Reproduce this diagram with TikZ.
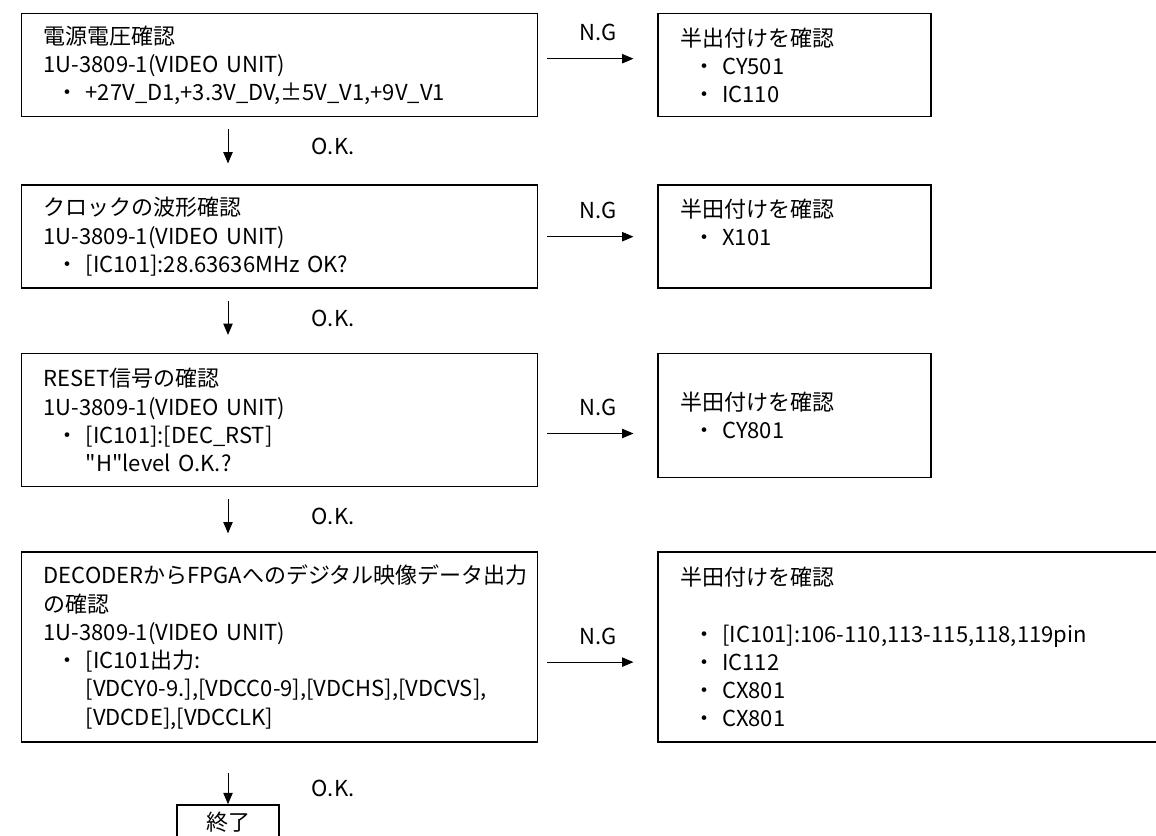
\documentclass[tikz,border=0pt]{standalone}
\usepackage{fontspec}
\setmainfont[Ligatures=TeXOff]{Noto Sans CJK JP}
\usetikzlibrary{arrows.meta, positioning}
\newcommand{\itm}{\hspace*{9.75pt}\makebox[21.75pt][l]{・}}
\newcommand{\cnt}{\hspace*{31.5pt}}

\begin{document}
\begin{tikzpicture}[
      chkbox/.style={draw, line width=1.1pt, text width=354pt, inner xsep=16.5pt, inner ysep=0pt,
      align=left, font=\fontsize{16.5pt}{21.2pt}\selectfont},
      fixbox/.style={chkbox, text width=171.75pt},
      endbox/.style={draw, line width=1.1pt, minimum width=76.5pt, minimum height=26pt, inner ysep=0pt,
      font=\fontsize{16.5pt}{21.2pt}\selectfont},
      okarrow/.style={-{Triangle[length=8.5pt,width=7pt]}, line width=0.75pt},
      ngarrow/.style={okarrow, shorten <=6.75pt, shorten >=18pt},
      oklabel/.style={font=\fontsize{16.5pt}{21.2pt}\selectfont, xshift=78.75pt},
      nglabel/.style={font=\fontsize{16.5pt}{21.2pt}\selectfont, yshift=19.5pt}
    ]
    \useasboundingbox (-15.75pt,9.75pt) rectangle (851.25pt,-616.5pt);

    \node[chkbox, minimum height=77.25pt, anchor=north west] (volt) at (0,0)
      {電源電圧確認\\1U-3809-1(VIDEO UNIT)\\\itm +27V\_D1,+3.3V\_DV,±5V\_V1,+9V\_V1};
    \node[chkbox, minimum height=77.25pt, below=50.25pt of volt] (clk)
      {クロックの波形確認\\1U-3809-1(VIDEO UNIT)\\\itm [IC101]:28.63636MHz OK?};
    \node[chkbox, minimum height=99.75pt, below=48pt of clk] (rst)
      {RESET信号の確認\\1U-3809-1(VIDEO UNIT)\\\itm [IC101]:[DEC\_RST]\\\cnt "H"level O.K.?};
    \node[chkbox, minimum height=142.5pt, below=48pt of rst] (dec)
      {DECODERからFPGAへのデジタル映像データ出力\\の確認\\1U-3809-1(VIDEO UNIT)\\\itm [IC101出力:\\\cnt [VDCY0-9.],[VDCC0-9],[VDCHS],[VDCVS],\\\cnt [VDCDE],[VDCCLK]};
    \node[endbox, below=46pt of dec.south west, xshift=155.25pt] (fin) {終了};

    \node[fixbox, minimum height=77.25pt, right=89.25pt of volt.north east, anchor=north west] (sold1)
      {半出付けを確認\\\itm CY501\\\itm IC110};
    \node[fixbox, minimum height=77.25pt, right=89.25pt of clk.north east, anchor=north west] (sold2)
      {半田付けを確認\\\itm X101\\\mbox{}};
    \node[fixbox, minimum height=93pt, right=89.25pt of rst.north east, anchor=north west] (sold3)
      {半田付けを確認\\\itm CY801};
    \node[fixbox, text width=420pt, minimum height=142.5pt, right=89.25pt of dec.north east, anchor=north west] (sold4)
      {半田付けを確認\\[21.2pt]\itm [IC101]:106-110,113-115,118,119pin\\\itm IC112\\\itm CX801\\\itm CX801};

    \draw[okarrow] ([xshift=155.25pt, yshift=-9pt]volt.south west) -- node[oklabel] {O.K.} ([xshift=155.25pt, yshift=15.75pt]clk.north west);
    \draw[okarrow] ([xshift=155.25pt, yshift=-9pt]clk.south west) -- node[oklabel] {O.K.} ([xshift=155.25pt, yshift=13.5pt]rst.north west);
    \draw[okarrow] ([xshift=155.25pt, yshift=-9pt]rst.south west) -- node[oklabel] {O.K.} ([xshift=155.25pt, yshift=13.5pt]dec.north west);
    \draw[okarrow] ([xshift=155.25pt, yshift=-22.5pt]dec.south west) -- node[oklabel] {O.K.} (fin.north);

    \draw[ngarrow] ([yshift=4.9pt]volt.east) -- node[nglabel] {N.G} ([yshift=4.9pt]volt.east -| sold1.west);
    \draw[ngarrow] (clk.east) -- node[nglabel] {N.G} (clk.east -| sold2.west);
    \draw[ngarrow] ([yshift=-10pt]rst.east) -- node[nglabel] {N.G} ([yshift=-10pt]rst.east -| sold3.west);
    \draw[ngarrow] ([yshift=-11.25pt]dec.east) -- node[nglabel] {N.G} ([yshift=-11.25pt]dec.east -| sold4.west);
  \end{tikzpicture}
\end{document}
